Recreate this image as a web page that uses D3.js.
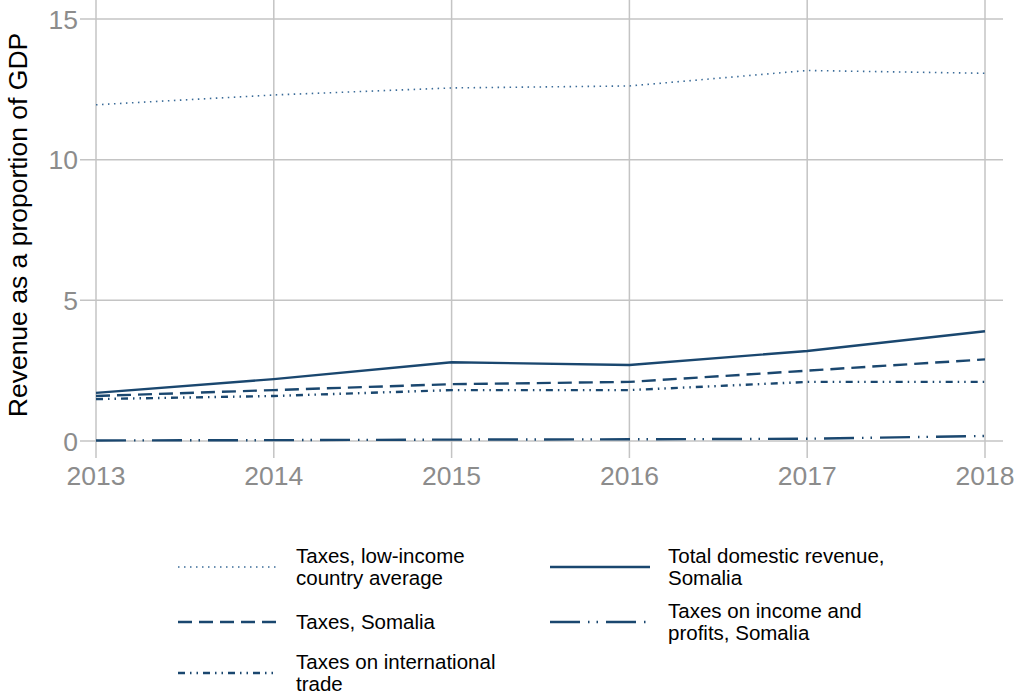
<!DOCTYPE html>
<html lang="en">
<head>
<meta charset="UTF-8">
<title>Revenue as a proportion of GDP</title>
<style>
    body { margin: 0; background: #fff; }
    svg { display: block; font-family: "Liberation Sans", Arial, sans-serif; }
    .grid line { stroke: #c4c4c4; stroke-width: 1.5; }
    .tick-label { fill: #8c8c8c; font-size: 26.5px; }
    .legend text { font-size: 20.5px; fill: #000; }
</style>
</head>
<body>
<script src="https://cdn.jsdelivr.net/npm/d3@7"></script>
<script>
    var years = [2013, 2014, 2015, 2016, 2017, 2018];
    var yTicks = [0, 5, 10, 15];

    var lowIncomeAvg = [11.95, 12.3, 12.55, 12.62, 13.17, 13.07];
    var totalSomalia = [1.71, 2.2, 2.8, 2.7, 3.2, 3.9];
    var taxesSomalia = [1.6, 1.81, 2.02, 2.1, 2.5, 2.9];
    var tradeTaxes = [1.49, 1.6, 1.81, 1.81, 2.1, 2.1];
    var incomeTaxes = [0.02, 0.03, 0.05, 0.06, 0.08, 0.18];

    var series = [
        { name: ["Taxes, low-income", "country average"], values: lowIncomeAvg, dash: "1.5,4.5", width: 1.6, color: "#3a6b98", col: 0, row: 0 },
        { name: ["Total domestic revenue,", "Somalia"], values: totalSomalia, dash: null, width: 2.4, color: "#1a476f", col: 1, row: 0 },
        { name: ["Taxes, Somalia"], values: taxesSomalia, dash: "14,7", width: 2.4, color: "#1a476f", col: 0, row: 1 },
        { name: ["Taxes on income and", "profits, Somalia"], values: incomeTaxes, dash: "30,8,1.5,7,1.5,8", width: 2.4, color: "#1a476f", col: 1, row: 1 },
        { name: ["Taxes on international", "trade"], values: tradeTaxes, dash: "7,5,1.5,5,1.5,5", width: 2.4, color: "#1a476f", col: 0, row: 2 }
    ];

    var W = 1017, H = 698;
    var svg = d3.select("body").append("svg").attr("width", W).attr("height", H);

    var x = d3.scaleLinear().domain([2013, 2018]).range([96, 985]);
    var y = d3.scaleLinear().domain([0, 15]).range([441, 19]);

    // grid
    var grid = svg.append("g").attr("class", "grid");
    grid.selectAll(".h").data(yTicks).enter().append("line")
        .attr("x1", 80).attr("x2", 1003)
        .attr("y1", d => y(d)).attr("y2", d => y(d));
    grid.selectAll(".v").data(years).enter().append("line")
        .attr("x1", d => x(d)).attr("x2", d => x(d))
        .attr("y1", 0).attr("y2", 458);

    svg.selectAll(".ylab").data(yTicks).enter().append("text")
        .attr("class", "tick-label")
        .attr("x", 78).attr("y", d => y(d) + 9.5)
        .attr("text-anchor", "end")
        .text(d => d);

    svg.selectAll(".xlab").data(years).enter().append("text")
        .attr("class", "tick-label")
        .attr("x", d => x(d)).attr("y", 485)
        .attr("text-anchor", "middle")
        .text(d => d);

    svg.append("text")
        .attr("transform", "translate(27,225) rotate(-90)")
        .attr("text-anchor", "middle")
        .style("font-size", "26.5px")
        .text("Revenue as a proportion of GDP");

    var line = d3.line()
        .x((d, i) => x(years[i]))
        .y(d => y(d));

    svg.append("g").selectAll("path").data(series).enter().append("path")
        .attr("d", d => line(d.values))
        .attr("fill", "none")
        .attr("stroke", d => d.color)
        .attr("stroke-width", d => d.width)
        .attr("stroke-dasharray", d => d.dash);

    // legend
    var colX = [178, 550];
    var rowY = [567, 622, 673];
    var leg = svg.append("g").attr("class", "legend");
    var items = leg.selectAll("g").data(series).enter().append("g")
        .attr("transform", d => "translate(" + colX[d.col] + "," + rowY[d.row] + ")");
    items.append("line")
        .attr("x1", 0).attr("x2", 100).attr("y1", 0).attr("y2", 0)
        .attr("stroke", d => d.color)
        .attr("stroke-width", d => d.width)
        .attr("stroke-dasharray", d => d.dash);
    items.each(function (d) {
        var t = d3.select(this).append("text").attr("x", 118);
        var n = d.name.length;
        d.name.forEach(function (s, i) {
            t.append("tspan").attr("x", 118)
                .attr("y", (i - (n - 1) / 2) * 22 + 7)
                .text(s);
        });
    });
</script>
</body>
</html>
